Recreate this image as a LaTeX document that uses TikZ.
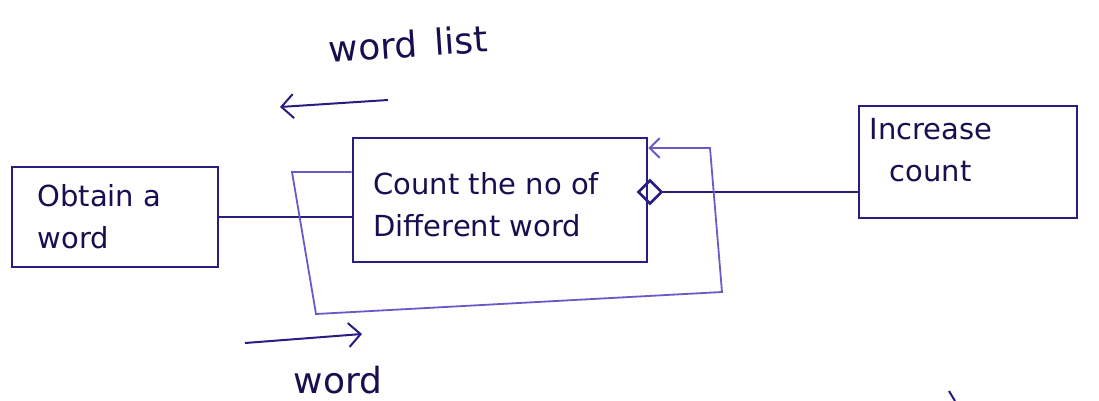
\documentclass[tikz,border=0pt]{standalone}
\usepackage{fontspec}
\setmainfont{DejaVu Sans}
\usetikzlibrary{shapes.geometric,arrows.meta}
\definecolor{ink}{RGB}{40,30,130}
\definecolor{inktext}{RGB}{25,15,80}
\definecolor{thinink}{RGB}{105,90,200}
\tikzset{
  box/.style={draw=ink, line width=2.6pt, rectangle, inner sep=0pt},
  label/.style={text=inktext, align=left, font=\fontsize{29}{42}\selectfont},
  biglabel/.style={text=inktext, font=\fontsize{36}{40}\selectfont},
  flow/.style={draw=ink, line width=2pt},
  loopline/.style={draw=thinink, line width=1.8pt},
  barb/.style={-{Straight Barb[length=12pt,width=24pt,line width=2pt]}},
  sel/.style={draw=ink, line width=2.6pt, diamond, minimum size=24pt, inner sep=0pt}
}
\begin{document}
\begin{tikzpicture}[x=1pt,y=-1pt]
  \useasboundingbox (0,0) rectangle (1099,401);
  \fill[white] (0,0) rectangle (1099,401);

  % modules
  \node[box, minimum width=206pt, minimum height=100pt] (obtain) at (115,217) {};
  \node[label, anchor=west] (obtaintxt) at (34,217) {Obtain a\\word};

  \node[box, minimum width=294pt, minimum height=124pt] (count) at (500,200) {};
  \node[label, anchor=west] (counttxt) at (370,205) {Count the no of\\Different word};

  \node[box, minimum width=218pt, minimum height=112pt] (inc) at (968,162) {};
  \node[label, anchor=west] (inctxt) at (866,150) {Increase\\\hspace*{20pt}count};

  % selection diamond on the right side of the counting module
  \node[sel] (choice) at (650,192) {};

  % calls
  \draw[flow] (obtain.east) -- (count.west |- obtain.east);
  \draw[flow] (choice.east) -- (inc.west |- choice.east);

  % iteration loop around the counting module
  \coordinate (l1) at (292,172);
  \coordinate (l2) at (316,314);
  \coordinate (l3) at (722,292);
  \coordinate (l4) at (710,148);
  \draw[loopline, -{Straight Barb[length=10pt,width=20pt,line width=2pt]}]
    (count.west |- l1) -- (l1) -- (l2) -- (l3) -- (l4) -- (count.east |- l4);

  % data couples
  \coordinate (wl1) at (388,100);
  \coordinate (wl2) at (280,107);
  \draw[flow, barb] (wl1) -- (wl2);
  \node[biglabel, rotate=4] (wltxt) at (408,44) {word\hspace{6pt} list};

  \coordinate (w1) at (245,343);
  \coordinate (w2) at (362,334);
  \draw[flow, barb] (w1) -- (w2);
  \node[biglabel] (wtxt) at (338,380) {word};

  % pen stroke at the lower edge
  \coordinate (s1) at (949,391);
  \coordinate (s2) at (955,401);
  \draw[flow] (s1) -- (s2);
\end{tikzpicture}
\end{document}
